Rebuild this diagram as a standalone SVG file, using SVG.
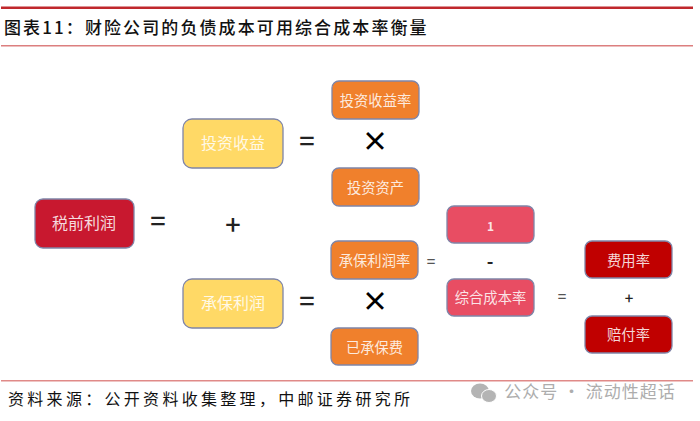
<svg xmlns="http://www.w3.org/2000/svg" width="700" height="421" viewBox="0 0 700 421">
<style>
text{font-family:"Noto Sans CJK SC","Liberation Sans",sans-serif;text-anchor:middle}
.b{stroke:#7f85a8;stroke-width:1.3}
.l{fill:#fff;fill-opacity:.85;font-size:14.300px;dominant-baseline:central}
.g{font-size:16px}
.y{fill:#ffd966}.r{fill:#c8182f}.o{fill:#f0802c}.p{fill:#e84d63}.d{fill:#c00000}
.op{fill:#222;dominant-baseline:central;font-weight:500}
.cap{fill:#111;text-anchor:start;font-size:16px;font-weight:400}
</style>
<rect width="700" height="421" fill="#fff"/>
<rect x="1" y="6.500" width="692" height="2.500" fill="#c0282c"/>
<rect x="1" y="45" width="692" height="1.500" fill="#dc7f7f"/>
<rect x="1" y="380" width="692" height="1.500" fill="#e08a88"/>
<text class="cap" x="4" y="34" style="font-size:17px;font-weight:500;letter-spacing:2.100px">图表11：财险公司的负债成本可用综合成本率衡量</text>
<text class="cap" x="8" y="405" style="letter-spacing:3.300px">资料来源：公开资料收集整理，中邮证券研究所</text>
<g id="n1"><rect class="b r" x="35" y="199" width="99" height="49" rx="8"/><text class="l g" x="84" y="222">税前利润</text></g>
<g id="n2"><rect class="b y" x="183" y="119" width="100" height="49" rx="9"/><text class="l g" x="233" y="142">投资收益</text></g>
<g id="n3"><rect class="b y" x="183" y="279" width="100" height="49" rx="9"/><text class="l g" x="233" y="302">承保利润</text></g>
<g id="n4"><rect class="b o" x="332" y="81" width="87" height="38" rx="7"/><text class="l" x="375.500" y="99">投资收益率</text></g>
<g id="n5"><rect class="b o" x="332" y="168" width="87" height="38" rx="7"/><text class="l" x="375.500" y="186">投资资产</text></g>
<g id="n6"><rect class="b o" x="331" y="241" width="87" height="38" rx="7"/><text class="l" x="374.500" y="259">承保利润率</text></g>
<g id="n7"><rect class="b o" x="331" y="328" width="87" height="37" rx="7"/><text class="l" x="374.500" y="346">已承保费</text></g>
<g id="n8"><rect class="b p" x="447" y="206" width="87" height="37" rx="7"/><text class="l" x="490.500" y="225" style="font-size:12px;font-weight:700">1</text></g>
<g id="n9"><rect class="b p" x="447" y="279" width="87" height="37" rx="7"/><text class="l" x="490.500" y="296">综合成本率</text></g>
<g id="n10"><rect class="b d" x="585" y="241" width="87" height="37" rx="7"/><text class="l" x="628.500" y="259">费用率</text></g>
<g id="n11"><rect class="b d" x="585" y="316" width="87" height="37" rx="7"/><text class="l" x="628.500" y="333">赔付率</text></g>
<g id="connectors">
<text class="op" x="158" y="219" font-size="27">=</text>
<text class="op" x="233" y="223" font-size="27">+</text>
<text class="op" x="307" y="139" font-size="27">=</text>
<text class="op" x="307" y="299" font-size="27">=</text>
<text class="op" x="375" y="139" font-size="27" style="fill:#000;font-weight:700">×</text>
<text class="op" x="375" y="299" font-size="27" style="fill:#000;font-weight:700">×</text>
<text class="op" x="431" y="260" font-size="15" style="fill:#555">=</text>
<text class="op" x="490" y="260" font-size="18" style="font-weight:700">-</text>
<text class="op" x="562" y="295" font-size="15" style="fill:#555">=</text>
<text class="op" x="629" y="297" font-size="15">+</text>
</g>
<g id="watermark" fill="#b4b4b4">
<ellipse cx="480" cy="391" rx="9" ry="7.500"/><ellipse cx="489" cy="396" rx="7.500" ry="6.500" stroke="#fff"/>
<text x="590" y="398" font-size="17" style="fill:#adadad;letter-spacing:1px">公众号 · 流动性超话</text>
</g>
</svg>
